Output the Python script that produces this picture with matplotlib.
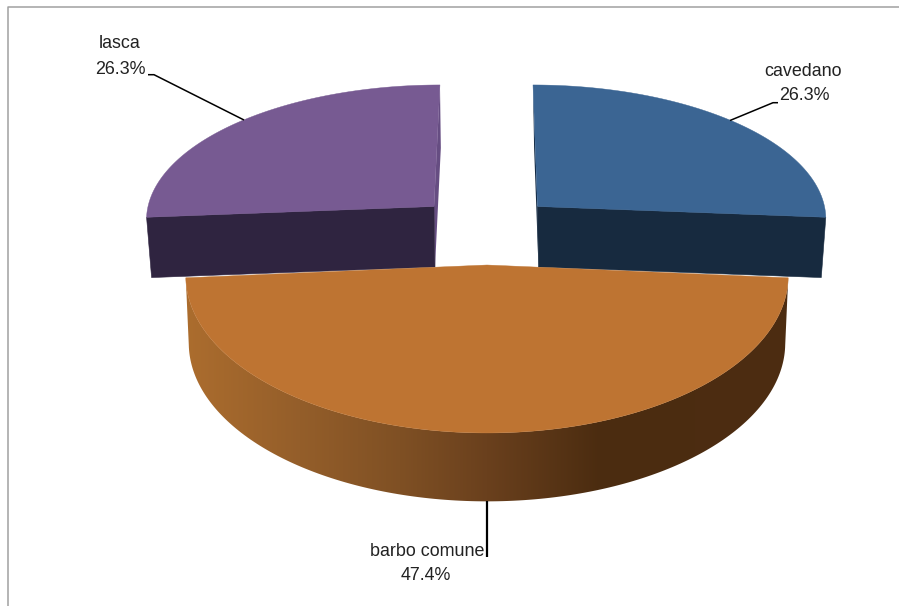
import numpy as np
import matplotlib
matplotlib.use("Agg")
import matplotlib.pyplot as plt
from matplotlib.patches import Polygon

categories = ["cavedano", "barbo comune", "lasca"]
values = [26.3, 47.4, 26.3]

plt.rcParams["font.family"] = ["Liberation Sans", "DejaVu Sans"]

# layout of each exploded slice, in pixels of the picture
LAYOUT = {
    "cavedano": dict(top=(537.5, 206.5), low=(538.5, 267), a=(287, 281.5), c=(131.2, 128.5), q=0.0795, s=-0.037,
                     face="#3B6593", side="#172A3F", wall="#132A44"),
    "barbo comune": dict(top=(487, 265), low=(487, 332), a=(300.5, 297.5), c=(156.2, 157.5), q=0.07, s=0.0,
                         face="#BE7432", side="#4D2D12", wall="#4D2D12"),
    "lasca": dict(top=(434, 206.5), low=(435, 267), a=(286, 282), c=(131.2, 128.5), q=0.0795, s=0.049,
                  face="#775A92", side="#2F2440", wall="#664D82"),
}
SIDE_X = [185, 300, 400, 487, 600, 790]
SIDE_R = [0xAC, 0x94, 0x7F, 0x6A, 0x4B, 0x4D]
SIDE_G = [0x6D, 0x5E, 0x50, 0x40, 0x2C, 0x2D]
SIDE_B = [0x2E, 0x2A, 0x24, 0x1D, 0x10, 0x12]


def rim(t, apex, a, c, q, s):
    t = np.asarray(t)
    w = 1 + q * np.cos(t)
    up = c * np.cos(t) / w
    return apex[0] + a * np.sin(t) / w + s * up, apex[1] - up


fig = plt.figure(figsize=(8.99, 6.06), dpi=100)
ax = fig.add_axes([0, 0, 1, 1])

# chart frame: only its top and left edges show
ax.plot([7.5, 7.5, 899], [606, 6.5, 6.5], color="#A0A0A0", lw=1.1, solid_capstyle="butt", zorder=1)

fractions = np.array(values) / sum(values)
ends = np.cumsum(fractions) * 2 * np.pi
starts = ends - fractions * 2 * np.pi
spans = {n: (s, e) for n, s, e in zip(categories, starts, ends)}


def draw_slice(name, z):
    L = LAYOUT[name]
    s0, s1 = spans[name]
    t = np.linspace(s0, s1, 181)
    ux, uy = rim(t, L["top"], L["a"][0], L["c"][0], L["q"], L["s"])
    lx, ly = rim(t, L["low"], L["a"][1], L["c"][1], L["q"], L["s"])
    if name == "barbo comune":
        # outer wall: horizontal shading, clipped to the wall outline
        outline = Polygon(list(zip(ux, uy)) + list(zip(lx[::-1], ly[::-1])), closed=True, fc="none", ec="none",
                          transform=ax.transData)
        ax.add_patch(outline)
        xs = np.arange(180, 796)
        shade = np.stack([np.interp(xs, SIDE_X, SIDE_R), np.interp(xs, SIDE_X, SIDE_G),
                          np.interp(xs, SIDE_X, SIDE_B)], axis=-1)[None, :, :] / 255
        im = ax.imshow(shade, extent=(180, 796, 510, 270), aspect="auto", interpolation="bilinear", zorder=z)
        im.set_clip_path(outline)
    else:
        # the two cut faces, running from the centre to each end of the rim
        inner, outer = (0, -1) if name == "cavedano" else (-1, 0)
        ax.add_patch(Polygon([L["top"], (ux[inner], uy[inner]), (lx[inner], ly[inner]), L["low"]],
                             closed=True, fc=L["wall"], ec="none", zorder=z))
        ax.add_patch(Polygon([L["top"], (ux[outer], uy[outer]), (lx[outer], ly[outer]), L["low"]],
                             closed=True, fc=L["side"], ec=L["side"], lw=0.4, zorder=z + 0.1))
    pts = [L["top"]] + list(zip(ux, uy))
    ax.add_patch(Polygon(pts, closed=True, fc=L["face"], ec=L["face"], lw=0.3, zorder=z + 0.2))


draw_slice("lasca", 2)
draw_slice("cavedano", 3)
draw_slice("barbo comune", 4)

# leader lines and labels
LEADERS = {
    "lasca": ([148, 154, 244], [74.7, 74.7, 120], 1.1),
    "cavedano": ([730, 773, 778], [120.5, 102.7, 102.7], 1.1),
    "barbo comune": ([487, 487], [501, 557], 1.6),
}
LABELS = {
    "lasca": ((120, 43), (120.5, 69)),
    "cavedano": ((803, 71), (804, 96)),
    "barbo comune": ((427, 552), (426, 576)),
}
for name, v in zip(categories, values):
    xs, ys, lw = LEADERS[name]
    ax.plot(xs, ys, color="black", lw=lw, solid_capstyle="butt", zorder=5)
    (x1, y1), (x2, y2) = LABELS[name]
    ax.text(x1, y1, name, ha="center", va="center", fontsize=12.9, color="#222222", zorder=6)
    ax.text(x2, y2, f"{v:.1f}%", ha="center", va="center", fontsize=12.9, color="#222222", zorder=6)

ax.set_xlim(0, 899)
ax.set_ylim(606, 0)
ax.axis("off")

fig.savefig("out.png", dpi=100, facecolor="white")
